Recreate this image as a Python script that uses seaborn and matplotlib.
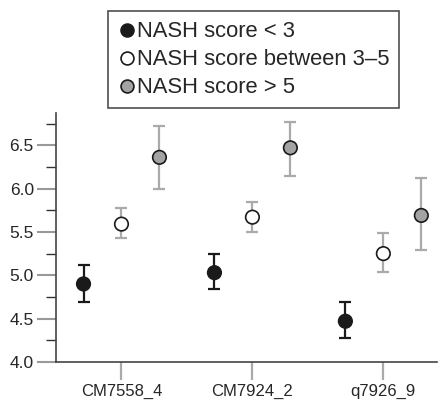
import numpy as np
import pandas as pd
import matplotlib
matplotlib.use('Agg')
import matplotlib.pyplot as plt
import seaborn as sns
from matplotlib.ticker import MultipleLocator

# values
probes = ['CM7558_4', 'CM7924_2', 'q7926_9']
groups = ['NASH score < 3', 'NASH score between 3\u20135', 'NASH score > 5']
mean_low = [4.90, 5.03, 4.47]
lo_low = [4.69, 4.84, 4.28]
hi_low = [5.12, 5.25, 4.69]
mean_mid = [5.59, 5.67, 5.25]
lo_mid = [5.43, 5.50, 5.04]
hi_mid = [5.78, 5.84, 5.49]
mean_high = [6.36, 6.47, 5.69]
lo_high = [6.00, 6.15, 5.29]
hi_high = [6.72, 6.77, 6.12]

rows = []
for g, m, lo, hi in zip(groups, [mean_low, mean_mid, mean_high],
                        [lo_low, lo_mid, lo_high], [hi_low, hi_mid, hi_high]):
    for i, p in enumerate(probes):
        rows.append({'probe': p, 'group': g, 'mean': m[i], 'lo': lo[i], 'hi': hi[i]})
df = pd.DataFrame(rows)

offsets = {groups[0]: -0.29, groups[1]: 0.0, groups[2]: 0.29}
fills = {groups[0]: '#1a1a1a', groups[1]: 'white', groups[2]: '#a3a3a3'}
err_cols = {groups[0]: '#1a1a1a', groups[1]: '#aaaaaa', groups[2]: '#aaaaaa'}
df['x'] = df['probe'].map({p: i for i, p in enumerate(probes)}) + df['group'].map(offsets)

sns.set_style('ticks')
plt.rcParams['font.family'] = ['Liberation Sans', 'DejaVu Sans']

fig = plt.figure(figsize=(4.41, 4.04), dpi=100)
ax = fig.add_axes([0.127, 0.104, 0.864, 0.616])

for g in groups:
    sub = df[df['group'] == g]
    ax.errorbar(sub['x'], sub['mean'],
                yerr=[sub['mean'] - sub['lo'], sub['hi'] - sub['mean']],
                fmt='none', ecolor=err_cols[g], elinewidth=1.6, capsize=4,
                capthick=1.6, zorder=2)

sns.scatterplot(data=df, x='x', y='mean', hue='group', hue_order=groups,
                palette=fills, edgecolor='#1a1a1a', linewidth=1.2, s=95,
                ax=ax, zorder=3, legend=True)

ax.set_xlim(-0.5, 2.41)
ax.set_ylim(4.0, 6.87)
ax.set_xticks(range(len(probes)))
ax.set_xticklabels(probes)
ax.yaxis.set_major_locator(MultipleLocator(0.5))
ax.yaxis.set_minor_locator(MultipleLocator(0.25))
ax.yaxis.set_major_formatter(matplotlib.ticker.FormatStrFormatter('%.1f'))
ax.set_xlabel('')
ax.set_ylabel('')
ax.tick_params(axis='y', which='major', length=14, width=1.5, color='#999999',
               labelsize=12.5, pad=2)
ax.tick_params(axis='y', which='minor', length=7, width=1, color='#333333')
ax.tick_params(axis='x', length=13, width=1.6, color='#aaaaaa',
               labelsize=12, pad=3)
for s in ['top', 'right']:
    ax.spines[s].set_visible(False)
for s in ['left', 'bottom']:
    ax.spines[s].set_color('#444444')
    ax.spines[s].set_linewidth(1.2)

handles, labels = ax.get_legend_handles_labels()
ax.legend_.remove()
leg = fig.legend(handles, labels, loc='upper left', bbox_to_anchor=(0.245, 0.972),
                 frameon=True, fancybox=False, edgecolor='#222222', fontsize=15.8,
                 handletextpad=0.0, handlelength=0.85, labelspacing=0.32,
                 borderpad=0.45, borderaxespad=0, markerscale=0.95)
leg.get_frame().set_linewidth(1.2)

fig.savefig('out.png', dpi=100)
